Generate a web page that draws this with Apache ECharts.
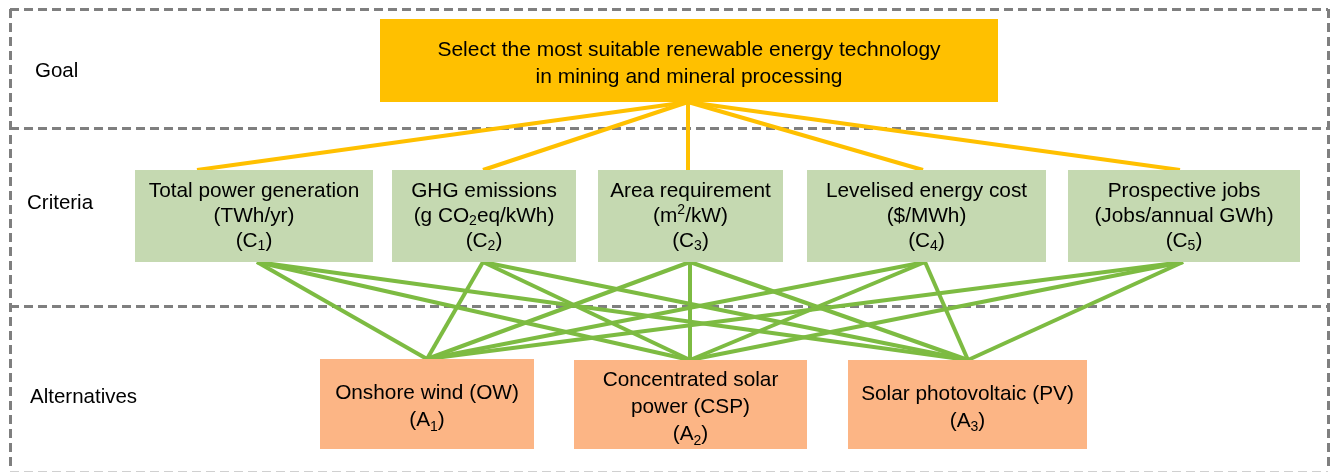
<!DOCTYPE html>
<html>
<head>
<meta charset="utf-8">
<script src="https://cdn.jsdelivr.net/npm/echarts@6/dist/echarts.min.js"></script>
<style>
  html, body { margin: 0; padding: 0; background: #fff; }
  #main { width: 1333px; height: 473px; }
</style>
</head>
<body>
<div id="main"></div>
<script>
// hierarchy content
const levels = ['Goal', 'Criteria', 'Alternatives'];
const goal = ['Select the most suitable renewable energy technology', 'in mining and mineral processing'];
const criteria = [
    ['Total power generation', '(TWh/yr)', '(C{sub|1})'],
    ['GHG emissions', '(g CO{sub|2}eq/kWh)', '(C{sub|2})'],
    ['Area requirement', '(m{sup|2}/kW)', '(C{sub|3})'],
    ['Levelised energy cost', '($/MWh)', '(C{sub|4})'],
    ['Prospective jobs', '(Jobs/annual GWh)', '(C{sub|5})']
];
const alternatives = [
    ['Onshore wind (OW)', '(A{sub|1})'],
    ['Concentrated solar', 'power (CSP)', '(A{sub|2})'],
    ['Solar photovoltaic (PV)', '(A{sub|3})']
];

// layout, in pixels with y going down
const W = 1333, H = 473;
const goalBox = [380, 19, 998, 102];
const criteriaBox = [[135, 170, 373, 262], [392, 170, 576, 262], [598, 170, 783, 262], [807, 170, 1046, 262], [1068, 170, 1300, 262]];
const altBox = [[320, 359, 534, 449], [574, 360, 807, 449], [848, 360, 1087, 449]];
const goalAnchor = [688, 102];
const criteriaTop = [197, 483, 688, 923, 1180];
const criteriaBottom = [257, 483, 690, 925, 1183];
const altTop = [427, 690, 968];
const levelPos = [[35, 71], [27, 203], [30, 397]];
const frameX = [10, 1328];
const bandY = [9, 128, 306];
const bottomY = 471;

const FONT = '"Liberation Sans", Arial, sans-serif';
const rich = {
    sub: { fontSize: 14, fontFamily: FONT, verticalAlign: 'bottom', lineHeight: 10 },
    sup: { fontSize: 14, fontFamily: FONT, verticalAlign: 'top', lineHeight: 18 }
};

// boxes
let boxes = [];
boxes.push({ rect: goalBox, text: goal.join('\n'), color: '#FFC000', size: 21, lh: 27, dy: 3 });
criteria.forEach(function (c, i) {
    boxes.push({ rect: criteriaBox[i], text: c.join('\n'), color: '#C5D9B1', size: 20.8, lh: 25, dy: 0 });
});
alternatives.forEach(function (a, i) {
    boxes.push({ rect: altBox[i], text: a.join('\n'), color: '#FCB585', size: 20.8, lh: 27, dy: 3 });
});

// links
let yellowLinks = criteria.map(function (c, i) {
    return { coords: [goalAnchor, [criteriaTop[i], criteriaBox[i][1]]] };
});
let greenLinks = [];
criteria.forEach(function (c, i) {
    alternatives.forEach(function (a, j) {
        greenLinks.push({ coords: [[criteriaBottom[i], criteriaBox[i][3]], [altTop[j], altBox[j][1]]] });
    });
});

// dashed frame
let frame = bandY.map(function (y) {
    return { coords: [[frameX[0], y], [frameX[1], y]] };
});
frame.push({ coords: [[frameX[0], bandY[0]], [frameX[0], bottomY]] });
frame.push({ coords: [[frameX[1], bandY[0]], [frameX[1], bottomY]] });

let myChart = echarts.init(document.getElementById('main'), null, { renderer: 'canvas' });
let option = {
    animation: false,
    backgroundColor: '#fff',
    grid: { left: 0, right: 0, top: 0, bottom: 0 },
    xAxis: { type: 'value', min: 0, max: W, show: false },
    yAxis: { type: 'value', min: 0, max: H, inverse: true, show: false },
    series: [
        {
            type: 'lines',
            coordinateSystem: 'cartesian2d',
            silent: true,
            z: 1,
            lineStyle: { color: '#7F7F7F', width: 3, type: [9, 5], opacity: 1 },
            data: frame
        },
        {
            type: 'lines',
            coordinateSystem: 'cartesian2d',
            silent: true,
            z: 1,
            lineStyle: { color: '#D0D0D0', width: 1, type: [9, 5], opacity: 1 },
            data: [{ coords: [[frameX[0], bottomY], [frameX[1], bottomY]] }]
        },
        {
            type: 'lines',
            coordinateSystem: 'cartesian2d',
            silent: true,
            z: 2,
            lineStyle: { color: '#FFC000', width: 4, opacity: 1, curveness: 0 },
            data: yellowLinks
        },
        {
            type: 'lines',
            coordinateSystem: 'cartesian2d',
            silent: true,
            z: 2,
            lineStyle: { color: '#7DBB42', width: 4, opacity: 1, curveness: 0 },
            data: greenLinks
        },
        {
            type: 'custom',
            coordinateSystem: 'cartesian2d',
            silent: true,
            z: 3,
            data: boxes.map(function (b, i) { return [i]; }),
            renderItem: function (params, api) {
                let b = boxes[params.dataIndex];
                let p0 = api.coord([b.rect[0], b.rect[1]]);
                let p1 = api.coord([b.rect[2], b.rect[3]]);
                return {
                    type: 'rect',
                    shape: { x: p0[0], y: p0[1], width: p1[0] - p0[0], height: p1[1] - p0[1] },
                    style: { fill: b.color },
                    textContent: {
                        style: {
                            text: b.text,
                            rich: rich,
                            fontSize: b.size,
                            lineHeight: b.lh,
                            fontFamily: FONT,
                            fill: '#000',
                            align: 'center'
                        }
                    },
                    textConfig: { position: 'inside', offset: [0, b.dy] }
                };
            }
        },
        {
            type: 'custom',
            coordinateSystem: 'cartesian2d',
            silent: true,
            z: 3,
            data: levels.map(function (l, i) { return [i]; }),
            renderItem: function (params, api) {
                let p = api.coord(levelPos[params.dataIndex]);
                return {
                    type: 'text',
                    x: p[0],
                    y: p[1],
                    style: {
                        text: levels[params.dataIndex],
                        fontSize: 20.5,
                        fontFamily: FONT,
                        fill: '#000',
                        align: 'left',
                        verticalAlign: 'middle'
                    }
                };
            }
        }
    ]
};
myChart.setOption(option);
</script>
</body>
</html>
